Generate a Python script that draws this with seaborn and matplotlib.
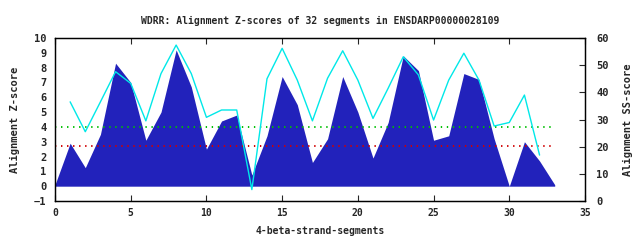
import numpy as np
import pandas as pd
import matplotlib
matplotlib.use("Agg")
import matplotlib.pyplot as plt
import seaborn as sns

# Z-score per segment (filled area)
seg = list(range(0, 34))
zscore = [0.1, 2.9, 1.25, 3.5, 8.3, 7.0, 3.1, 5.0, 9.2, 6.7, 2.5, 4.4, 4.8, 0.75,
          3.4, 7.4, 5.5, 1.6, 3.2, 7.4, 5.0, 1.9, 4.3, 8.8, 7.8, 3.1, 3.4, 7.6,
          7.2, 3.2, 0.0, 3.0, 1.7, 0.1]

# SS-score (cyan line, right axis)
ss_seg = list(range(1, 33))
ss_score = [36.5, 25.5, 36.5, 47.6, 43.3, 29.5, 46.9, 57.4, 46.9, 30.8, 33.5, 33.5,
            4.2, 45.0, 56.2, 44.5, 29.5, 45.2, 55.3, 44.5, 30.4, 41.5, 53.1, 46.4,
            29.8, 44.5, 54.4, 44.5, 27.6, 28.9, 39.0, 16.9]

# threshold lines
green_level = 4.0
red_level = 2.72

df = pd.DataFrame({"seg": seg, "z": zscore})
df_ss = pd.DataFrame({"seg": ss_seg, "ss": ss_score})

sns.set_style("white")
plt.rcParams["font.family"] = ["DejaVu Sans Mono"]
plt.rcParams["font.weight"] = "bold"
fs = 7

fig = plt.figure(figsize=(6.4, 2.4), dpi=100)
ax = fig.add_axes([55 / 640, 1 - 201 / 240, 530 / 640, 163 / 240])

ax.fill_between(df["seg"], 0, df["z"], color="#2222bb", linewidth=0, zorder=2)
ax.plot([0, 33], [green_level, green_level], color="#00c000", linestyle=(0, (0.7, 2.4)),
        linewidth=1.4, zorder=3)
ax.plot([0, 33], [red_level, red_level], color="#d00000", linestyle=(0, (0.7, 2.4)),
        linewidth=1.4, zorder=3)

ax.set_xlim(0, 35)
ax.set_ylim(-1, 10)
ax.set_xticks(range(0, 36, 5))
ax.set_yticks(range(-1, 11))
ax.tick_params(axis="x", direction="in", top=True, bottom=True, length=4,
               labelsize=fs, pad=5)
ax.tick_params(axis="y", left=False, length=0, labelsize=fs + 0.5, pad=6)
ax.set_xlabel("4-beta-strand-segments", fontsize=fs, fontweight="bold", labelpad=6)
ax.set_ylabel("Alignment Z-score", fontsize=fs + 0.5, fontweight="bold", labelpad=10)
ax.set_title("WDRR: Alignment Z-scores of 32 segments in ENSDARP00000028109",
             fontsize=fs, fontweight="bold", pad=10)

ax2 = ax.twinx()
sns.lineplot(data=df_ss, x="seg", y="ss", ax=ax2, color="#00e8e8", linewidth=1.0)
ax2.set_ylim(0, 60)
ax2.set_yticks(range(0, 61, 10))
ax2.tick_params(axis="y", direction="in", right=True, length=4, labelsize=fs + 0.5, pad=8)
ax2.set_ylabel("Alignment SS-score", fontsize=fs + 0.5, fontweight="bold", labelpad=10)
ax2.set_xlabel("")

for a in (ax, ax2):
    for s in a.spines.values():
        s.set_color("black")
        s.set_linewidth(0.9)

fig.savefig("out.png", dpi=100)
